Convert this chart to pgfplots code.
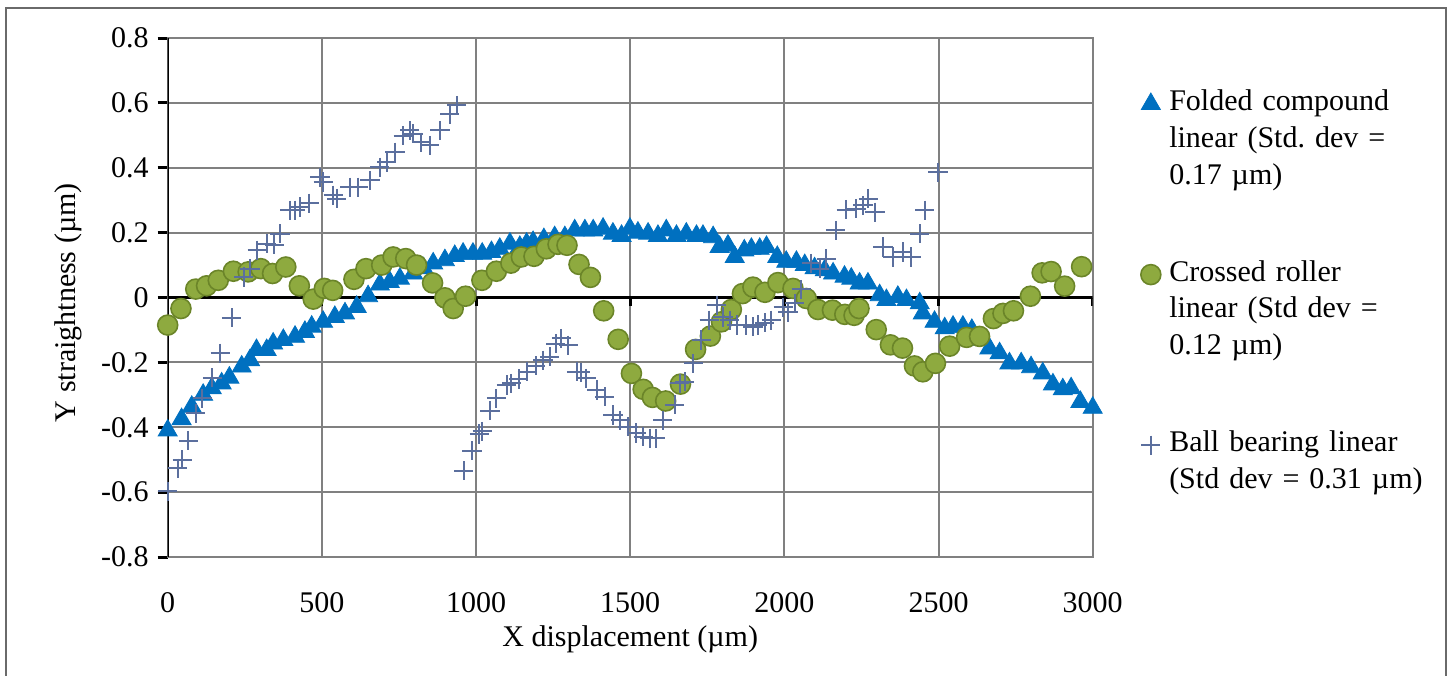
\documentclass[border=0pt]{standalone}
\usepackage{pgfplots}
\pgfplotsset{compat=1.18}
\usepackage{fontspec}
\setmainfont{Liberation Serif}
\frenchspacing
\definecolor{fcBlue}{HTML}{0070C0}
\definecolor{crFill}{HTML}{8EAA3F}
\definecolor{crEdge}{HTML}{6B8529}
\definecolor{bbCol}{HTML}{5B6F9E}
\definecolor{gridGray}{HTML}{808080}
\definecolor{frameGray}{HTML}{6A6A6A}
\begin{document}
\begin{tikzpicture}
\useasboundingbox (-83.85pt,-59pt) rectangle (643.15pt,278.5pt);
\draw[frameGray, line width=1pt] (-80.85pt,-60pt) -- (-80.85pt,274.5pt) -- (639.15pt,274.5pt) -- (639.15pt,-60pt);
\begin{axis}[
  at={(0,0)}, anchor=south west,
  width=462.5pt, height=259.5pt, scale only axis,
  font=\fontsize{15}{18.35}\selectfont,
  xmin=0, xmax=3000, ymin=-0.8, ymax=0.8,
  xtick={0,500,1000,1500,2000,2500,3000},
  xticklabels={0,500,1000,1500,2000,2500,3000},
  ytick={-0.8,-0.6,-0.4,-0.2,0,0.2,0.4,0.6,0.8},
  yticklabels={-0.8,-0.6,-0.4,-0.2,0,0.2,0.4,0.6,0.8},
  grid=major,
  major grid style={draw=gridGray, line width=1pt},
  axis line style={draw=gridGray, line width=1pt},
  xtick style={draw=none},
  ytick style={draw=black, line width=1.5pt},
  ytick pos=left, xtick pos=bottom,
  tick align=outside, major tick length=5pt,
  xticklabel style={yshift=-9pt},
  yticklabel style={xshift=-1pt},
  xlabel={X displacement (µm)},
  ylabel={Y straightness (µm)},
  xlabel style={at={(axis description cs:0.5,-0.158)}, anchor=center},
  ylabel style={at={(axis description cs:-0.107,0.49)}, anchor=center},
  legend style={at={(rel axis cs:1.0447,0.901)}, anchor=north west,
    draw=none, fill=none, inner sep=0pt, row sep=35pt, column sep=1pt,
    font=\fontsize{15}{18.35}\selectfont,
    cells={anchor=base west},
    nodes={text width=135pt, align=left, inner sep=0pt, text depth=, text height=}},
  legend image code/.code={\path (0pt,0pt) (16pt,0pt); \draw[#1] plot coordinates {(8pt,0.33em)};},
]
\addplot[only marks, mark=triangle*, mark size=5.5pt, color=fcBlue, mark options={draw=fcBlue, fill=fcBlue}] coordinates {
(0,-0.41) (45,-0.375) (78,-0.337) (115,-0.30) (143,-0.28) (175,-0.265) (200,-0.247)
(240,-0.213) (267,-0.193) (288,-0.162) (321,-0.162) (342,-0.142) (375,-0.131) (413,-0.121)
(445,-0.106) (467,-0.09) (504,-0.075) (542,-0.06) (575,-0.049) (613,-0.029) (650,0.004)
(688,0.04) (720,0.048) (753,0.058) (796,0.074) (830,0.09) (861,0.105) (899,0.115)
(931,0.128) (958,0.135) (990,0.135) (1020,0.135) (1050,0.14) (1077,0.15) (1110,0.166)
(1142,0.156) (1164,0.166) (1185,0.171) (1220,0.18) (1255,0.186) (1288,0.186) (1320,0.207)
(1353,0.207) (1380,0.207) (1412,0.212) (1444,0.197) (1472,0.19) (1499,0.212) (1525,0.20)
(1558,0.197) (1590,0.19) (1617,0.207) (1650,0.19) (1682,0.197) (1715,0.19) (1736,0.19)
(1769,0.186) (1790,0.156) (1817,0.16) (1839,0.125) (1870,0.145) (1893,0.15) (1920,0.15)
(1942,0.156) (1977,0.125) (2006,0.11) (2039,0.11) (2066,0.10) (2098,0.09) (2131,0.084)
(2158,0.074) (2195,0.064) (2217,0.058) (2244,0.043) (2271,0.043) (2309,0.007) (2331,-0.008)
(2368,0.002) (2396,-0.008) (2439,-0.018) (2449,-0.049) (2487,-0.075) (2520,-0.095) (2547,-0.09)
(2579,-0.09) (2608,-0.10) (2640,-0.13) (2665,-0.157) (2698,-0.172) (2730,-0.203) (2768,-0.203)
(2800,-0.215) (2838,-0.234) (2871,-0.268) (2903,-0.283) (2930,-0.28) (2960,-0.322) (3000,-0.34)
};
\addlegendentry{Folded compound\\linear (Std. dev =\\0.17 µm)}
\addplot[only marks, mark=*, mark size=5pt, mark options={draw=crEdge, fill=crFill, line width=0.8pt}] coordinates {
(0,-0.085) (43,-0.034) (91,0.026) (126,0.036) (164,0.053) (213,0.081) (261,0.079) (302,0.089)
(340,0.074) (383,0.094) (427,0.036) (472,-0.005) (508,0.028) (535,0.022) (604,0.056) (643,0.089)
(694,0.10) (731,0.125) (772,0.12) (807,0.10) (859,0.045) (899,-0.001) (926,-0.034) (966,0.004)
(1019,0.053) (1066,0.081) (1113,0.106) (1147,0.125) (1188,0.127) (1228,0.15) (1266,0.164)
(1295,0.161) (1334,0.102) (1371,0.062) (1414,-0.041) (1461,-0.129) (1504,-0.234) (1542,-0.283)
(1572,-0.308) (1615,-0.319) (1663,-0.267) (1712,-0.16) (1760,-0.119) (1796,-0.075) (1828,-0.037)
(1864,0.012) (1898,0.032) (1937,0.016) (1979,0.046) (2028,0.028) (2071,-0.003) (2109,-0.037)
(2156,-0.039) (2196,-0.052) (2226,-0.055) (2242,-0.034) (2298,-0.099) (2344,-0.146) (2383,-0.156)
(2422,-0.211) (2449,-0.229) (2490,-0.203) (2536,-0.15) (2591,-0.123) (2633,-0.12) (2678,-0.065)
(2709,-0.049) (2743,-0.041) (2798,0.004) (2836,0.076) (2865,0.08) (2909,0.035) (2964,0.095)
};
\addlegendentry{Crossed roller\\linear (Std dev =\\0.12 µm)}
\addplot[only marks, mark=+, mark size=4.8pt, color=bbCol, mark options={line width=1pt}] coordinates {
(0,-0.598) (32,-0.526) (47,-0.50) (67,-0.441) (91,-0.357) (112,-0.311) (145,-0.247) (170,-0.172)
(207,-0.062) (247,0.063) (267,0.089) (290,0.146) (321,0.166) (346,0.163) (364,0.197) (396,0.269)
(413,0.269) (429,0.279) (459,0.291) (494,0.371) (504,0.356) (537,0.315) (548,0.305) (591,0.34)
(618,0.34) (656,0.361) (688,0.402) (710,0.417) (737,0.448) (764,0.499) (785,0.515) (796,0.505)
(823,0.479) (850,0.469) (883,0.515) (915,0.566) (937,0.592) (960,-0.534) (987,-0.472) (1010,-0.421)
(1020,-0.413) (1045,-0.349) (1066,-0.311) (1099,-0.27) (1115,-0.265) (1139,-0.251) (1166,-0.229)
(1194,-0.21) (1217,-0.193) (1239,-0.183) (1259,-0.142) (1277,-0.126) (1299,-0.147) (1326,-0.229)
(1340,-0.231) (1358,-0.249) (1391,-0.285) (1417,-0.306) (1444,-0.362) (1468,-0.378) (1493,-0.398)
(1520,-0.418) (1542,-0.429) (1563,-0.434) (1583,-0.434) (1606,-0.378) (1644,-0.331) (1661,-0.265)
(1677,-0.26) (1704,-0.203) (1731,-0.131) (1756,-0.07) (1780,-0.024) (1801,-0.06) (1823,-0.07)
(1845,-0.085) (1877,-0.085) (1898,-0.09) (1914,-0.085) (1936,-0.078) (1958,-0.07) (1996,-0.03)
(2012,-0.045) (2033,-0.018) (2055,0.025) (2087,0.105) (2114,0.089) (2136,0.12) (2166,0.207)
(2201,0.271) (2233,0.274) (2255,0.284) (2272,0.305) (2294,0.263) (2320,0.156) (2352,0.125)
(2384,0.14) (2412,0.125) (2439,0.197) (2455,0.269) (2498,0.386)
};
\addlegendentry{Ball bearing linear\\(Std dev = 0.31 µm)}
\draw[black, line width=1.5pt] (axis cs:0,0) -- (axis cs:3000,0);
\draw[black, line width=1.5pt] (axis cs:0,-0.8) -- (axis cs:0,0.8);
\pgfplotsinvokeforeach{500,1000,1500,2000,2500,3000}{\draw[black, line width=1.5pt] (axis cs:#1,0) -- ++(0pt,-4pt);}
\end{axis}
\end{tikzpicture}
\end{document}
